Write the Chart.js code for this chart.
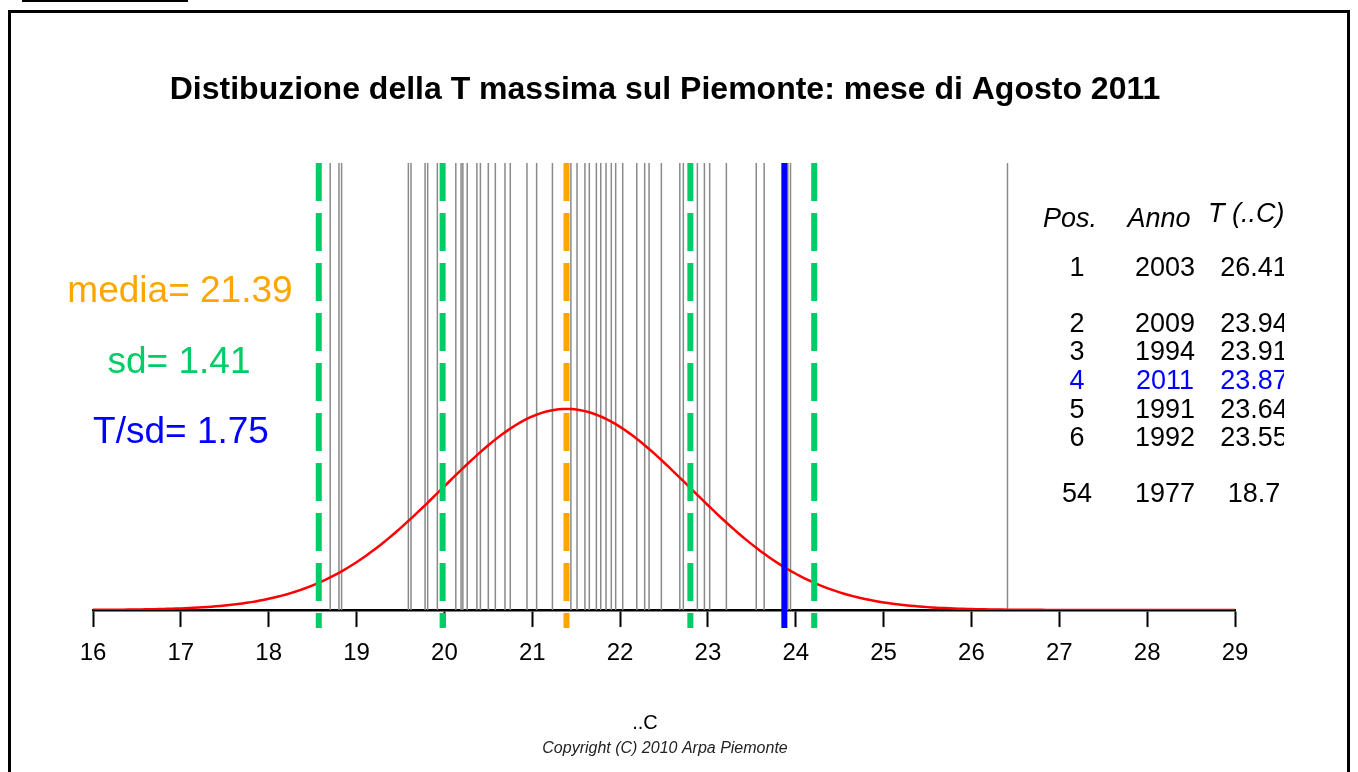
<!DOCTYPE html>
<html>
<head>
<meta charset="utf-8">
<title>Distibuzione della T massima sul Piemonte</title>
<script src="https://cdn.jsdelivr.net/npm/chart.js@4/dist/chart.umd.min.js"></script>
<style>
  html, body { margin: 0; padding: 0; background: #fff; overflow: hidden; }
  #wrap { position: relative; width: 1358px; height: 772px; }
  #grafico { position: absolute; left: 0; top: 0; }
  .cornice { position: absolute; left: 8px; top: 10px; width: 1336px; height: 800px; border: 3px solid #000; pointer-events: none; }
  .sottolineato { position: absolute; left: 22px; top: 0; width: 166px; height: 2px; background: #000; }
</style>
</head>
<body>
<div id="wrap">
  <canvas id="grafico" width="1358" height="772"></canvas>
  <div class="cornice"></div>
  <div class="sottolineato"></div>
</div>
<script>
// T massima media di agosto per ogni anno (gradi C)
var temperature = [
  18.70, 18.80, 18.83, 19.59, 19.62, 19.78, 19.81, 19.92, 20.13, 20.19,
  20.21, 20.26, 20.37, 20.41, 20.50, 20.58, 20.69, 20.75, 20.94, 21.05,
  21.23, 21.44, 21.51, 21.60, 21.65, 21.73, 21.78, 21.84, 21.90, 21.95,
  22.03, 22.19, 22.28, 22.33, 22.47, 22.68, 22.72, 22.88, 22.96, 23.02,
  23.21, 23.55, 23.64, 23.87, 23.91, 23.94, 26.41
];

var media = 21.39;
var sd = 1.41;
var rapporto = 1.75;
var annoCorrente = 2011;
var tCorrente = 23.87;

// classifica
var posizioni = [1, 2, 3, 4, 5, 6, 54];
var anni = [2003, 2009, 1994, 2011, 1991, 1992, 1977];
var valori = ["26.41", "23.94", "23.91", "23.87", "23.64", "23.55", "18.7"];

var xTicks = [16, 17, 18, 19, 20, 21, 22, 23, 24, 25, 26, 27, 28, 29];

var YMAX = 0.629;
var YBASSO = -0.04 * YMAX;

var VERDE = "rgb(0,205,102)";
var ARANCIO = "#FFA500";
var BLU = "#0000FF";
var FONT = "'Liberation Sans', Arial, Helvetica, sans-serif";

// segmenti verticali grigi, separati da null
var linee = [];
temperature.forEach(function (t) {
  linee.push({ x: t, y: 0 });
  linee.push({ x: t, y: YMAX });
  linee.push({ x: t, y: null });
});

// curva normale con media e sd
function dnorm(x) {
  var z = (x - media) / sd;
  return Math.exp(-0.5 * z * z) / (sd * Math.sqrt(2 * Math.PI));
}
var curva = [];
for (var i = 0; i <= 260; i++) {
  var xv = xTicks[0] + i * (xTicks[xTicks.length - 1] - xTicks[0]) / 260;
  curva.push({ x: xv, y: dnorm(xv) });
}

function verticale(x) {
  return [{ x: x, y: YMAX }, { x: x, y: YBASSO }];
}

var tratteggio = [38, 12];

var testi = {
  id: "testi",
  afterDraw: function (chart) {
    var ctx = chart.ctx;
    ctx.save();
    ctx.textBaseline = "middle";
    ctx.textAlign = "center";

    ctx.fillStyle = "#000";
    ctx.font = "bold 32px " + FONT;
    ctx.fillText("Distibuzione della T massima sul Piemonte: mese di Agosto " + annoCorrente, 665, 90);

    ctx.font = "37px " + FONT;
    ctx.fillStyle = ARANCIO;
    ctx.fillText("media= " + media.toFixed(2), 180, 292);
    ctx.fillStyle = VERDE;
    ctx.fillText("sd= " + sd.toFixed(2), 179, 363);
    ctx.fillStyle = BLU;
    ctx.fillText("T/sd= " + rapporto.toFixed(2), 181, 433);

    // tabella a destra, tagliata sul bordo
    ctx.beginPath();
    ctx.rect(1000, 150, 284, 400);
    ctx.clip();
    ctx.fillStyle = "#000";
    ctx.font = "italic 27px " + FONT;
    ctx.fillText("Pos.", 1070, 219);
    ctx.fillText("Anno", 1159, 219);
    ctx.textAlign = "left";
    ctx.fillText("T (..C)", 1208, 214);
    ctx.textAlign = "center";

    var righe = [269, 325, 353, 382, 411, 439, 495];
    ctx.font = "27px " + FONT;
    for (var r = 0; r < posizioni.length; r++) {
      ctx.fillStyle = anni[r] === annoCorrente ? BLU : "#000";
      ctx.fillText(String(posizioni[r]), 1077, righe[r]);
      ctx.fillText(String(anni[r]), 1165, righe[r]);
      ctx.fillText(valori[r], 1254, righe[r]);
    }
    ctx.restore();

    ctx.save();
    ctx.textBaseline = "middle";
    ctx.textAlign = "center";
    ctx.fillStyle = "#000";
    ctx.font = "20px " + FONT;
    ctx.fillText("..C", 645, 723);
    ctx.font = "italic 16px " + FONT;
    ctx.fillStyle = "#222";
    ctx.fillText("Copyright (C) 2010 Arpa Piemonte", 665, 749);
    ctx.restore();
  }
};

var sfondo = {
  id: "sfondo",
  beforeDraw: function (chart) {
    var ctx = chart.ctx;
    ctx.save();
    ctx.fillStyle = "#fff";
    ctx.fillRect(0, 0, chart.width, chart.height);
    ctx.restore();
  }
};

new Chart(document.getElementById("grafico").getContext("2d"), {
  type: "scatter",
  data: {
    datasets: [
      {
        label: "anni",
        data: linee,
        showLine: true,
        spanGaps: false,
        borderColor: "#8a8a8a",
        borderWidth: 1.5,
        pointRadius: 0,
        order: 6
      },
      {
        label: "normale",
        data: curva,
        showLine: true,
        borderColor: "#FF0000",
        borderWidth: 2.5,
        pointRadius: 0,
        tension: 0,
        order: 5
      },
      {
        label: "media-2sd",
        data: verticale(media - 2 * sd),
        showLine: true, borderColor: VERDE, borderWidth: 6, borderDash: tratteggio,
        pointRadius: 0, clip: false, order: 4
      },
      {
        label: "media-sd",
        data: verticale(media - sd),
        showLine: true, borderColor: VERDE, borderWidth: 6, borderDash: tratteggio,
        pointRadius: 0, clip: false, order: 4
      },
      {
        label: "media+sd",
        data: verticale(media + sd),
        showLine: true, borderColor: VERDE, borderWidth: 6, borderDash: tratteggio,
        pointRadius: 0, clip: false, order: 4
      },
      {
        label: "media+2sd",
        data: verticale(media + 2 * sd),
        showLine: true, borderColor: VERDE, borderWidth: 6, borderDash: tratteggio,
        pointRadius: 0, clip: false, order: 4
      },
      {
        label: "media",
        data: verticale(media),
        showLine: true, borderColor: ARANCIO, borderWidth: 6, borderDash: tratteggio,
        pointRadius: 0, clip: false, order: 3
      },
      {
        label: String(annoCorrente),
        data: verticale(tCorrente),
        showLine: true, borderColor: BLU, borderWidth: 6,
        pointRadius: 0, clip: false, order: 2
      }
    ]
  },
  options: {
    responsive: false,
    animation: false,
    layout: { padding: { left: 93, right: 123, top: 163, bottom: 0 } },
    plugins: {
      legend: { display: false },
      tooltip: { enabled: false },
      title: { display: false }
    },
    scales: {
      x: {
        type: "linear",
        position: "bottom",
        min: xTicks[0],
        max: xTicks[xTicks.length - 1],
        afterBuildTicks: function (scale) {
          scale.ticks = xTicks.map(function (v) { return { value: v }; });
        },
        afterFit: function (scale) { scale.height = 162; },
        ticks: {
          color: "#000",
          font: { family: FONT, size: 24 },
          padding: 12,
          maxRotation: 0,
          autoSkip: false
        },
        grid: {
          drawOnChartArea: false,
          drawTicks: true,
          tickLength: 17,
          tickWidth: 2,
          tickColor: "#000"
        },
        border: { display: true, color: "#000", width: 2.5 }
      },
      y: {
        display: false,
        min: 0,
        max: YMAX
      }
    }
  },
  plugins: [sfondo, testi]
});
</script>
</body>
</html>
